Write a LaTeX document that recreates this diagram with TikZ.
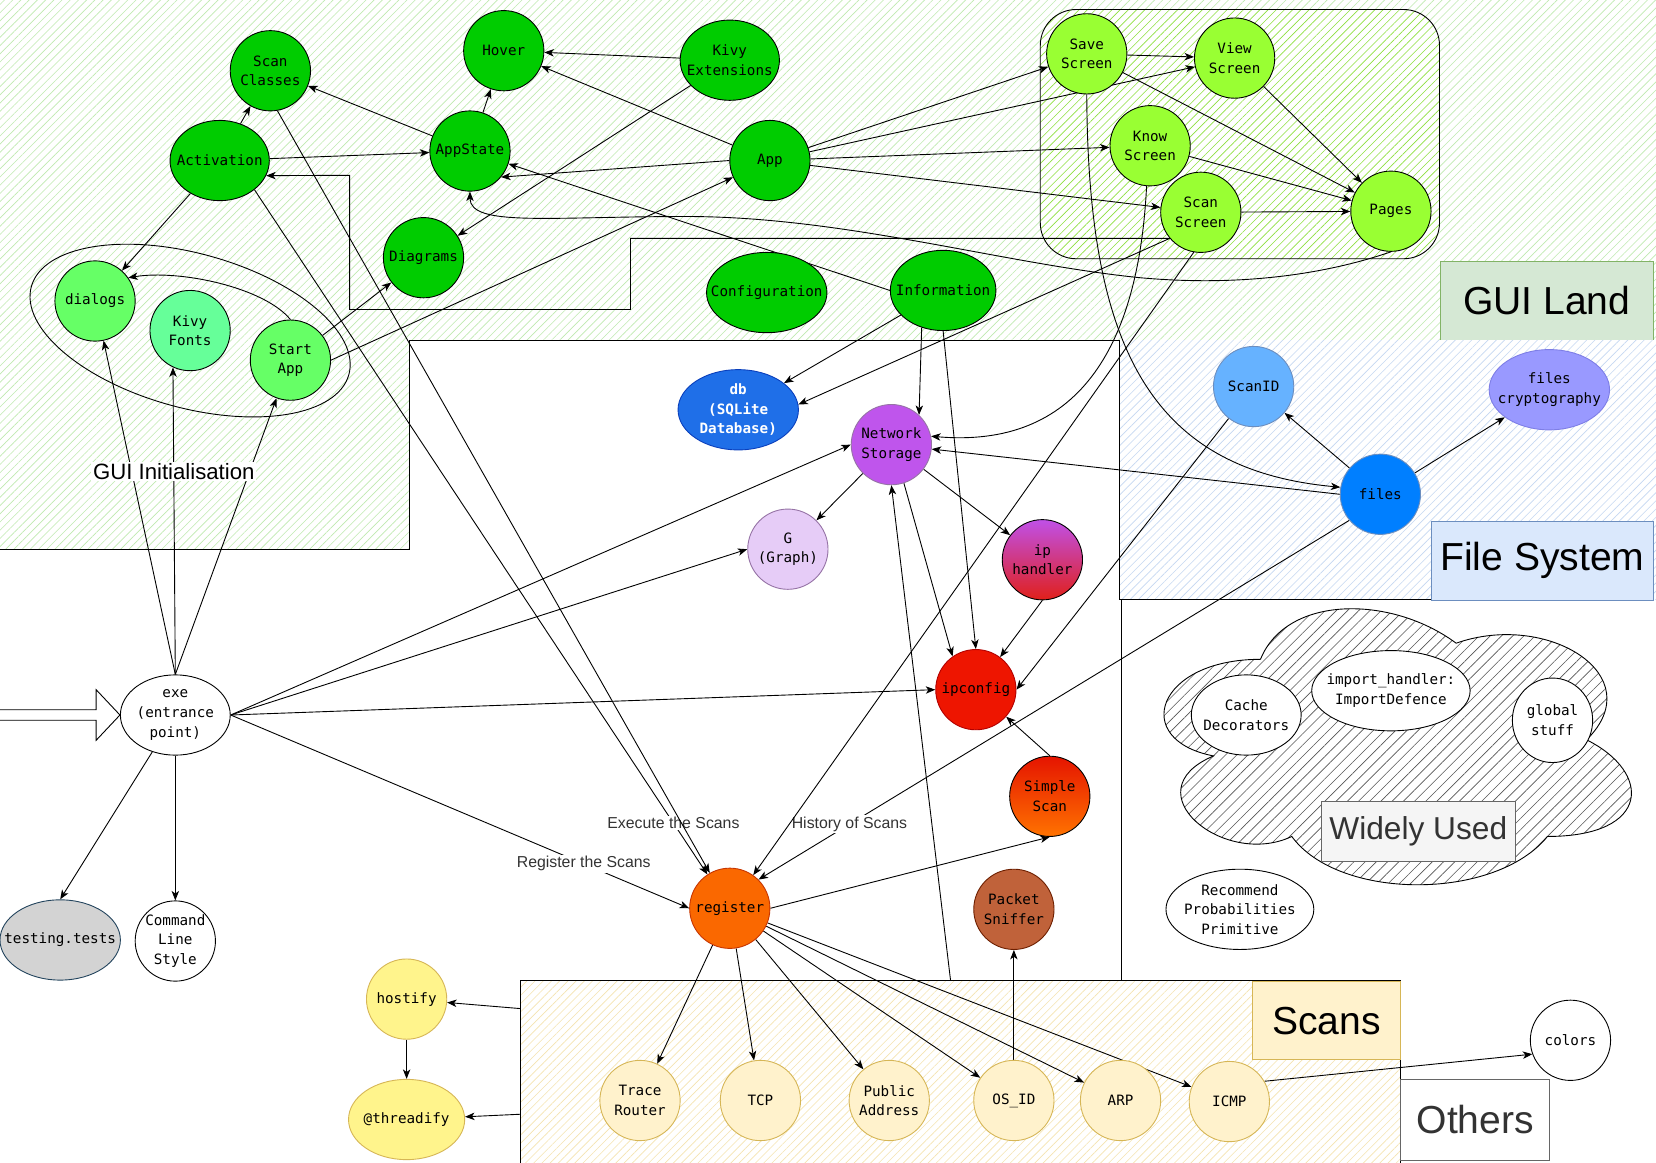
\documentclass[tikz,border=0pt]{standalone}
\usepackage{fontspec}
\setmainfont{Liberation Sans}
\newfontfamily\monof{DejaVu Sans Mono}
\usetikzlibrary{shapes.geometric,arrows.meta,patterns.meta}
\pgfdeclarelayer{bg}
\pgfdeclarelayer{edges}
\pgfsetlayers{bg,edges,main}

\definecolor{cDark}{HTML}{00CC00}
\definecolor{cLight}{HTML}{66FF66}
\definecolor{cMint}{HTML}{66FF99}
\definecolor{cLime}{HTML}{99FF33}
\definecolor{cDb}{HTML}{1F6FE8}
\definecolor{cDbB}{HTML}{0A3FBC}
\definecolor{cNs}{HTML}{BF55EC}
\definecolor{cG}{HTML}{E6CCF7}
\definecolor{cGB}{HTML}{9673A6}
\definecolor{cIpc}{HTML}{EE1500}
\definecolor{cIpcB}{HTML}{B20000}
\definecolor{cOr}{HTML}{FA6800}
\definecolor{cOrB}{HTML}{C73500}
\definecolor{cPs}{HTML}{C0623A}
\definecolor{cPsB}{HTML}{6D1F00}
\definecolor{cSid}{HTML}{66B2FF}
\definecolor{cFc}{HTML}{9999FF}
\definecolor{cFcB}{HTML}{7E7EE6}
\definecolor{cFl}{HTML}{007FFF}
\definecolor{cBlB}{HTML}{6C8EBF}
\definecolor{cTt}{HTML}{D3D3D3}
\definecolor{cTtB}{HTML}{23445D}
\definecolor{cYel}{HTML}{FFF48C}
\definecolor{cYelB}{HTML}{D6B656}
\definecolor{cScan}{HTML}{FFF2CC}
\definecolor{hGreen}{HTML}{BFEAB0}
\definecolor{hLime}{HTML}{8EE040}
\definecolor{hBlue}{HTML}{C5D8F2}
\definecolor{hYel}{HTML}{F5E4B0}
\definecolor{hGray}{HTML}{555555}
\definecolor{gLandF}{HTML}{D5E8D4}
\definecolor{gLandB}{HTML}{82B366}
\definecolor{fsF}{HTML}{DAE8FC}
\definecolor{wuF}{HTML}{F5F5F5}
\definecolor{wuB}{HTML}{666666}
\definecolor{tGray}{HTML}{333333}
\definecolor{ipTop}{HTML}{C050E8}
\definecolor{ipBot}{HTML}{E0201A}
\definecolor{ssTop}{HTML}{E51400}
\definecolor{ssBot}{HTML}{FF7300}

\tikzset{
  nd/.style={ellipse, draw=black, line width=0.85pt, minimum width=76pt, minimum height=76pt, inner sep=0pt},
  every label/.style={align=center, font=\monof\fontsize{13.5}{18.5}\selectfont, inner sep=0pt},
  arr/.style={line width=0.85pt, -{Stealth[length=9pt,width=7pt,inset=2.5pt]}},
  plain/.style={line width=0.85pt},
  elbl/.style={fill=white, inner sep=1.5pt, font=\fontsize{15}{18}\selectfont, text=tGray},
  bigbox/.style={line width=0.85pt, anchor=north west, inner sep=0pt, font=\fontsize{37}{40}\selectfont},
  hatch/.style args={#1/#2}{pattern={Lines[angle=45,distance=#2,line width=0.6pt]}, pattern color=#1},
}
\newcommand\mknode[4][]{\node[nd,#1,label={center:{#4}}] (#2) at (#3) {};}

\begin{document}
\begin{tikzpicture}[x=1pt,y=-1pt]
\useasboundingbox (0,0) rectangle (1568,1101);

% ---------------- nodes ----------------
% GUI
\mknode[fill=cDark, minimum width=76pt]{sc}{256,67}{Scan\\Classes}
\mknode[fill=cDark]{hov}{477,48}{Hover}
\mknode[fill=cDark, minimum width=94pt]{kext}{691,57}{Kivy\\Extensions}
\mknode[fill=cDark, minimum width=94pt]{act}{208,152}{Activation}
\mknode[fill=cDark]{as}{445,143}{AppState}
\mknode[fill=cDark]{app}{729,152}{App}
\mknode[fill=cDark]{dg}{401,244}{Diagrams}
\mknode[fill=cDark, minimum width=114pt]{conf}{726,277}{Configuration}
\mknode[fill=cDark, minimum width=100pt]{info}{893,275}{Information}
\mknode[fill=cLight]{dl}{90,285}{dialogs}
\mknode[fill=cMint]{kf}{180,313}{Kivy\\Fonts}
\mknode[fill=cLight]{sa}{275,341}{Start\\App}
\mknode[fill=cLime]{sv}{1029,51}{Save\\Screen}
\mknode[fill=cLime]{vw}{1169,55}{View\\Screen}
\mknode[fill=cLime]{ks}{1089,138}{Know\\Screen}
\mknode[fill=cLime]{ss}{1137,201}{Scan\\Screen}
\mknode[fill=cLime]{pg}{1317,200}{Pages}
% middle
\node[nd, fill=cDb, draw=cDbB, minimum width=114pt,
  label={[text=white, font=\monof\bfseries\fontsize{13.5}{18.5}\selectfont]center:{db\\(SQLite\\Database)}}] (db) at (699,388) {};
\mknode[fill=cNs, draw=cGB]{ns}{844,421}{Network\\Storage}
\mknode[fill=cG, draw=cGB]{gg}{746,520}{G\\(Graph)}
\mknode[top color=ipTop, bottom color=ipBot]{iph}{987,530}{ip\\handler}
\mknode[fill=cIpc, draw=cIpcB]{ipc}{924,653}{ipconfig}
\mknode[top color=ssTop, bottom color=ssBot]{sis}{994,754}{Simple\\Scan}
\mknode[fill=cPs, draw=cPsB]{ps}{960,861}{Packet\\Sniffer}
\mknode[fill=cOr, draw=cOrB]{reg}{691,860}{register}
% file system
\mknode[fill=cSid, draw=cBlB]{sid}{1187,366}{ScanID}
\mknode[fill=cFc, draw=cFcB, minimum width=114pt]{fc}{1467,369}{files\\cryptography}
\mknode[fill=cFl, draw=cBlB]{fl}{1307,468}{files}
% left
\mknode[fill=white, minimum width=104pt]{exe}{166,677}{exe\\(entrance\\point)}
\mknode[fill=cTt, draw=cTtB, minimum width=114pt]{tt}{57,890}{testing.tests}
\mknode[fill=white]{cls}{166,891}{Command\\Line\\Style}
\mknode[fill=cYel, draw=cYelB]{hos}{385,946}{hostify}
\mknode[fill=cYel, draw=cYelB, minimum width=110pt]{thr}{385,1060}{@threadify}
% scans
\mknode[fill=cScan, draw=cYelB]{tr}{606,1042}{Trace\\Router}
\mknode[fill=cScan, draw=cYelB]{tcp}{720,1042}{TCP}
\mknode[fill=cScan, draw=cYelB]{pa}{842,1042}{Public\\Address}
\mknode[fill=cScan, draw=cYelB]{os}{960,1042}{OS\_ID}
\mknode[fill=cScan, draw=cYelB]{arp}{1061,1042}{ARP}
\mknode[fill=cScan, draw=cYelB]{icmp}{1164,1043}{ICMP}
\mknode[fill=white]{col}{1487,985}{colors}
% widely used
\mknode[fill=white, minimum width=104pt]{cd}{1180,677}{Cache\\Decorators}
\mknode[fill=white, minimum width=150pt]{ih}{1317,654}{import\_handler:\\ImportDefence}
\mknode[fill=white, minimum height=80pt]{gs}{1470,682}{global\\stuff}
\mknode[fill=white, minimum width=140pt]{rpp}{1174,861}{Recommend\\Probabilities\\Primitive}

% ---------------- background ----------------
\begin{pgfonlayer}{bg}
  \fill[white] (0,0) rectangle (1568,1101);
  % GUI land
  \path[hatch=hGreen/5.5pt] (0,0) -- (1568,0) -- (1568,322) -- (388,322) -- (388,520) -- (0,520) -- cycle;
  \draw[plain] (0,520) -- (388,520) -- (388,322) -- (1363,322);
  \draw[plain, rounded corners=34pt, preaction={fill=white}, hatch=hLime/5.5pt] (985,9) rectangle (1363,245);
  \draw[plain, rotate around={-15.5:(180,313)}] (180,313) ellipse (156 and 73);
  \node[bigbox, draw=gLandB, fill=gLandF, minimum width=202pt, minimum height=75pt] (guiland) at (1363,247) {GUI Land};
  % file system
  \path[preaction={fill=white}, hatch=hBlue/5.5pt] (1060,322) rectangle (1568,568);
  \draw[plain] (1060,322) -- (1060,568) -- (1355,568);
  \draw[plain] (1062,568) -- (1062,928);
  \node[bigbox, draw=cBlB, fill=fsF, minimum width=210pt, minimum height=75pt] (fslbl) at (1355,493) {File System};
  % scans
  \node[anchor=north west, inner sep=0pt, minimum width=833pt, minimum height=175pt,
        preaction={fill=white}, hatch=hYel/5.5pt] (scr) at (493,928) {};
  \draw[plain] (scr.south west) -- (scr.north west) -- (scr.north east) -- (scr.south east);
  \node[bigbox, draw=cYelB, fill=cScan, minimum width=141pt, minimum height=74pt] (scanslbl) at (1185,929) {Scans};
  \node[bigbox, draw=wuB, fill=white, text=tGray, minimum width=141pt, minimum height=76pt] (others) at (1326,1022) {Others};
  % widely used cloud
  \begin{scope}[shift={(1070,548)}, x=4.94pt, y=-3.05pt]
    \path[draw=black, line width=0.85pt, preaction={fill=white}, hatch=hGray/7.5pt]
      (25,25) .. controls (5,25) and (0,50) .. (16,55)
      .. controls (0,66) and (18,90) .. (31,80)
      .. controls (40,100) and (70,100) .. (80,80)
      .. controls (100,80) and (100,60) .. (87.5,50)
      .. controls (100,30) and (80,10) .. (62.5,20)
      .. controls (50,5) and (30,5) .. (25,25) -- cycle;
  \end{scope}
  \node[bigbox, draw=wuB, fill=wuF, text=tGray, font=\fontsize{30}{34}\selectfont, minimum width=183pt, minimum height=57pt] (wulbl) at (1251,758) {Widely Used};
  % entrance arrow
  \draw[plain, fill=white] (0,672) -- (91,672) -- (91,653) -- (exe.west) -- (91,701) -- (91,682) -- (0,682);
\end{pgfonlayer}

% ---------------- edges ----------------
\begin{pgfonlayer}{edges}
  \draw[arr] (act) -- (sc);
  \draw[arr] (act) -- (as);
  \draw[arr] (act) -- (dl);
  \draw[arr] (as) -- (sc);
  \draw[arr] (as) -- (hov);
  \draw[arr] (kext) -- (hov);
  \draw[arr] (app) -- (hov);
  \draw[arr] (kext) -- (dg);
  \draw[arr] (app.west) -- (as.-40);
  \draw[arr] (info.west) -- (as);
  \draw[arr] (app) -- (sv);
  \draw[arr] (app) -- (vw);
  \draw[arr] (app) -- (ks);
  \draw[arr] (app) -- (ss);
  \draw[arr] (sv) -- (vw);
  \draw[arr] (sv) -- (pg);
  \draw[arr] (vw) -- (pg);
  \draw[arr] (ks) -- (pg);
  \draw[arr] (ss) -- (pg);
  \draw[arr] (pg.south) .. controls (1260,258) and (1180,272) .. (1080,263)
     .. controls (950,250) and (800,205) .. (650,205)
     .. controls (520,205) and (445,215) .. (as.south);
  \draw[arr] (sa.north) .. controls (250,272) and (170,255) .. (dl.35);
  \draw[arr] (sa) -- (dg);
  \draw[arr] (sa.east) -- (app);
  \draw[arr] (ss.220) -| (597,293) -| (331,166) -- (act.-18);
  \draw[arr] (ss.220) -- (db.5);
  \draw[arr] (info) -- (db);
  \draw[arr] (info.-120) -- (ns.47);
  \draw[arr] (info.south) -- (ipc.north);
  \draw[arr] (ks.-95) .. controls (1078,330) and (1020,425) .. (ns.12);
  \draw[arr] (fl.west) -- (ns);
  \draw[arr] (sv.south) .. controls (1030,330) and (1090,445) .. (fl.170);
  \draw[arr] (fl) -- (sid);
  \draw[arr] (fl) -- (fc);
  \draw[arr] (sid) -- (ipc.east);
  \draw[arr] (iph.south) -- (ipc);
  \draw[arr] (ns) -- (gg);
  \draw[arr] (ns) -- (iph);
  \draw[arr] (ns.-72) -- (ipc.125);
  \draw[arr] (sis.north) -- (ipc);
  \draw[arr] (reg.east) -- (sis.south);
  \draw[arr] (fl.-140) -- node[elbl, pos=0.846] {History of Scans} (reg.45);
  \draw[arr] (ss.-100) -- (reg);
  \draw[arr] (act.-40) -- node[elbl, pos=0.925] {Execute the Scans} (reg);
  \draw[arr] (sc.-80) -- (reg);
  \draw[arr] (exe.east) -- node[elbl, pos=0.77] {Register the Scans} (reg.west);
  \draw[arr] (exe.north) -- (dl);
  \draw[arr] (exe.north) -- (sa);
  \draw[arr] (exe.north) -- node[elbl, pos=0.66, text=black, font=\fontsize{21}{25}\selectfont] {GUI Initialisation} (kf.-115);
  \draw[arr] (exe.east) -- (ns.west);
  \draw[arr] (exe.east) -- (gg.west);
  \draw[arr] (exe.east) -- (ipc.west);
  \draw[arr] (exe) -- (tt.north);
  \draw[arr] (exe.south) -- (cls);
  \draw[arr] (reg) -- (tr);
  \draw[arr] (reg) -- (tcp);
  \draw[arr] (reg) -- (pa);
  \draw[arr] (reg) -- (os);
  \draw[arr] (reg) -- (arp);
  \draw[arr] (reg) -- (icmp);
  \draw[arr] (os) -- (ps);
  \draw[arr] (icmp.30) -- (col.200);
  \draw[arr] (900,0 |- scr.north) -- (ns.south);
  \draw[arr] (scr.west |- 0,955) -- (hos);
  \draw[arr] (scr.west |- 0,1055) -- (thr);
  \draw[arr] (hos) -- (thr);
\end{pgfonlayer}
\end{tikzpicture}
\end{document}
